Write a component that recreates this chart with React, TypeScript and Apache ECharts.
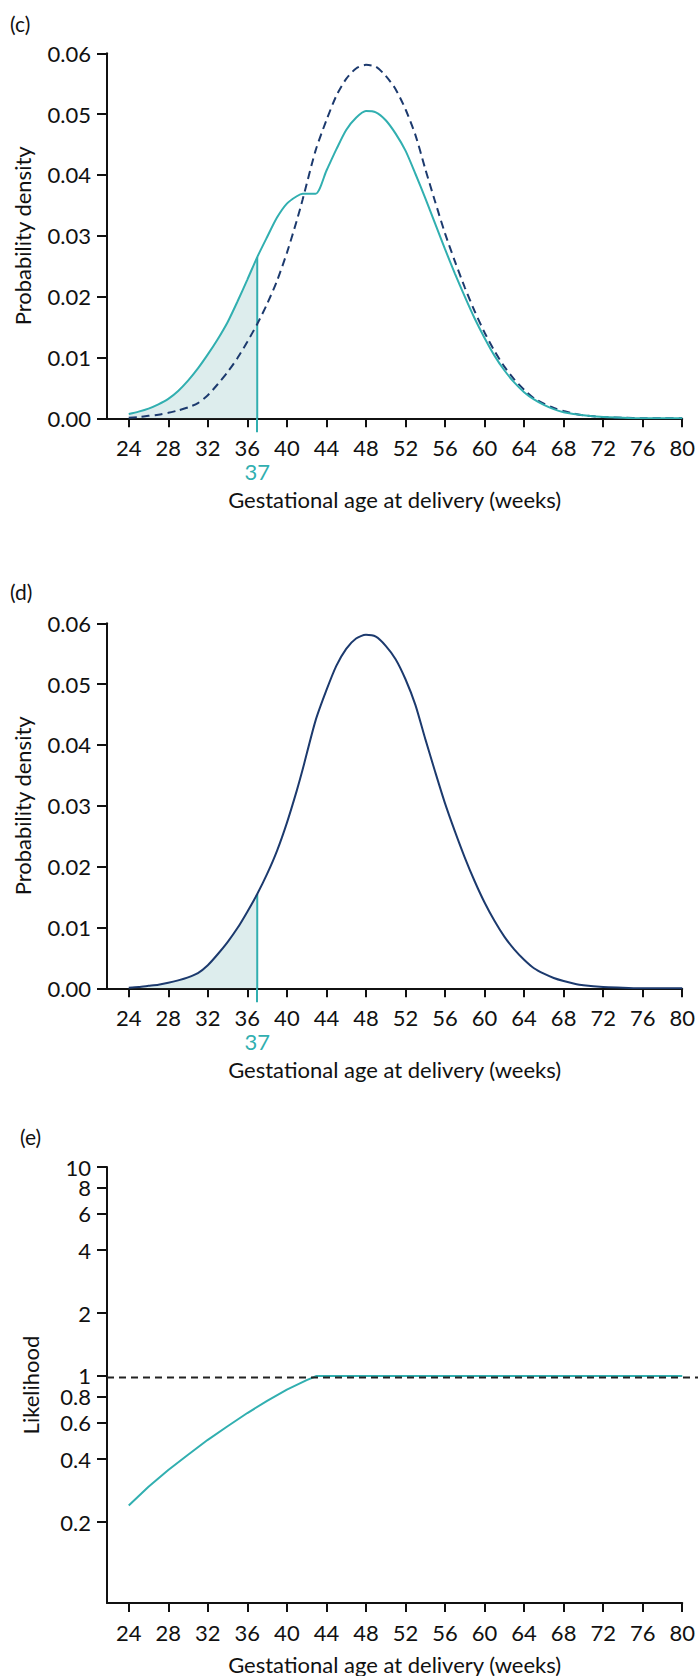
import React, { useEffect, useRef } from "react";
import * as echarts from "echarts";

// ---- data ----
const weeks = [24, 25, 26, 27, 28, 29, 30, 31, 32, 33, 34, 35, 36, 37, 38, 39, 40, 41, 41.6, 42.9, 44, 45, 46, 47, 48, 49, 50, 51, 52, 53, 54, 55, 56, 57, 58, 59, 60, 61, 62, 63, 64, 65, 66, 67, 68, 69, 70, 72, 74, 76, 78, 80];

// teal (solid) density in panel (c)
const tealDensity = [0.0007, 0.0011, 0.0016, 0.0023, 0.0032, 0.0045, 0.0062, 0.0082, 0.0105, 0.013, 0.0158, 0.0192, 0.0228, 0.0265, 0.0298, 0.033, 0.0353, 0.0365, 0.0369, 0.0369, 0.0407, 0.0442, 0.0474, 0.0494, 0.0505, 0.0503, 0.049, 0.0468, 0.044, 0.0402, 0.0362, 0.032, 0.0278, 0.0238, 0.02, 0.0164, 0.0132, 0.0103, 0.0079, 0.0059, 0.0043, 0.0031, 0.0022, 0.0015, 0.001, 0.0007, 0.0005, 0.0002, 0.0001, 0, 0, 0];

// navy density: dashed in (c), solid in (d)
const navyDensity = [0.0001, 0.0002, 0.0004, 0.0006, 0.0009, 0.0013, 0.0018, 0.0025, 0.0038, 0.0056, 0.0076, 0.0099, 0.0126, 0.0155, 0.0188, 0.0226, 0.0272, 0.0325, 0.036, 0.044, 0.049, 0.053, 0.0558, 0.0575, 0.0581, 0.0578, 0.0563, 0.0541, 0.0508, 0.0466, 0.041, 0.0356, 0.0304, 0.0258, 0.0215, 0.0176, 0.0141, 0.0111, 0.0085, 0.0064, 0.0047, 0.0033, 0.0024, 0.0017, 0.0012, 0.0008, 0.0005, 0.0002, 0.0001, 0, 0, 0];

const weekTicks = [24, 28, 32, 36, 40, 44, 48, 52, 56, 60, 64, 68, 72, 76, 80];
const cutoffWeek = 37;

const likelihoodWeeks = [24, 26, 28, 30, 32, 34, 36, 38, 40, 42, 43, 80];
const likelihoodValues = [0.24, 0.295, 0.355, 0.42, 0.495, 0.575, 0.665, 0.76, 0.86, 0.955, 1.0, 1.0];
const likelihoodTicks = [0.2, 0.4, 0.6, 0.8, 1, 2, 4, 6, 8];
const likelihoodTopTick = [10];
const referenceLikelihood = 1;

// ---- styles ----
const TEAL = "#31AFB0";
const NAVY = "#1C3A6E";
const FILL = "#DDEDED";
const INK = "#111111";
const FONT = "Lato";
const SMOOTH = 0.25;

const pairs = (xs: number[], ys: number[]) => xs.map((x, i) => [x, ys[i]]);
const upTo = (xs: number[], ys: number[], lim: number) =>
  xs.map((x, i) => [x, ys[i]]).filter((p) => p[0] <= lim);

const densityXAxis = (gridIndex: number) => ({
  gridIndex,
  type: "value",
  position: "bottom",
  min: 21.8,
  max: 80,
  axisLine: { show: true, lineStyle: { color: INK, width: 2 } },
  axisTick: { show: true, customValues: weekTicks, length: 9, lineStyle: { color: INK, width: 2 } },
  axisLabel: { customValues: weekTicks, margin: 18, fontSize: 22, fontFamily: FONT, color: INK, showMinLabel: true, showMaxLabel: true },
  splitLine: { show: false },
  name: "Gestational age at delivery (weeks)",
  nameLocation: "middle",
  nameGap: 70,
  nameTextStyle: { fontSize: 22, fontFamily: FONT, color: INK },
});

const cutoffXAxis = (gridIndex: number) => ({
  gridIndex,
  type: "value",
  position: "bottom",
  min: 21.8,
  max: 80,
  axisLine: { show: false },
  axisTick: { show: true, customValues: [cutoffWeek], length: 14, lineStyle: { color: TEAL, width: 2 } },
  axisLabel: { customValues: [cutoffWeek], margin: 42, fontSize: 22, fontFamily: FONT, color: TEAL },
  splitLine: { show: false },
});

const densityYAxis = (gridIndex: number) => ({
  gridIndex,
  type: "value",
  min: 0,
  max: 0.06,
  interval: 0.01,
  axisLine: { show: true, lineStyle: { color: INK, width: 2 } },
  axisTick: { show: true, length: 10, lineStyle: { color: INK, width: 2 } },
  axisLabel: { margin: 16, fontSize: 22, fontFamily: FONT, color: INK, showMinLabel: true, showMaxLabel: true, formatter: (v: number) => v.toFixed(2) },
  splitLine: { show: false },
  name: "Probability density",
  nameLocation: "middle",
  nameGap: 74,
  nameTextStyle: { fontSize: 22, fontFamily: FONT, color: INK },
});

const logLabel = (values: number[]) => ({
  customValues: values,
  showMinLabel: true,
  showMaxLabel: true,
  margin: 16,
  fontSize: 22,
  lineHeight: 12,
  fontFamily: FONT,
  color: INK,
  formatter: (v: number) => String(v),
});

const titleStyle = { fontSize: 21, fontWeight: "normal", fontFamily: FONT, color: INK };

export default function App() {
  const ref = useRef<HTMLDivElement>(null);

  useEffect(() => {
    if (!ref.current) return;
    const chart = echarts.init(ref.current, undefined, { renderer: "svg" });
    const tealAtCut = tealDensity[weeks.indexOf(cutoffWeek)];
    const navyAtCut = navyDensity[weeks.indexOf(cutoffWeek)];

    const curve = (xi: number, yi: number, data: number[][], color: string, dash: any, z: number) => ({
      type: "line",
      xAxisIndex: xi,
      yAxisIndex: yi,
      data,
      symbol: "none",
      smooth: SMOOTH,
      lineStyle: { color, width: 2, type: dash },
      z,
    });
    const area = (xi: number, yi: number, data: number[][]) => ({
      type: "line",
      xAxisIndex: xi,
      yAxisIndex: yi,
      data,
      symbol: "none",
      smooth: SMOOTH,
      lineStyle: { width: 0 },
      areaStyle: { color: FILL, opacity: 1 },
      z: 1,
    });
    const cutLine = (xi: number, yi: number, top: number) => ({
      type: "line",
      xAxisIndex: xi,
      yAxisIndex: yi,
      data: [
        [cutoffWeek, 0],
        [cutoffWeek, top],
      ],
      symbol: "none",
      lineStyle: { color: TEAL, width: 2 },
      z: 2,
    });

    chart.setOption({
      animation: false,
      backgroundColor: "#ffffff",
      title: [
        { text: "(c)", left: 10, top: 13, textStyle: titleStyle, padding: 0 },
        { text: "(d)", left: 10, top: 581, textStyle: titleStyle, padding: 0 },
        { text: "(e)", left: 20, top: 1126, textStyle: titleStyle, padding: 0 },
      ],
      grid: [
        { left: 107, top: 53.3, width: 576, height: 365 },
        { left: 107, top: 623.3, width: 576, height: 365 },
        { left: 107, top: 1167, width: 577, height: 439 },
        { left: 107, top: 1167, width: 591, height: 439 },
      ],
      xAxis: [
        densityXAxis(0),
        cutoffXAxis(0),
        densityXAxis(1),
        cutoffXAxis(1),
        {
          gridIndex: 2,
          type: "value",
          position: "bottom",
          min: 21.8,
          max: 80,
          axisLine: { show: true, lineStyle: { color: INK, width: 2 } },
          axisTick: { show: true, customValues: weekTicks, length: 9, lineStyle: { color: INK, width: 2 } },
          axisLabel: { customValues: weekTicks, margin: 18, fontSize: 22, fontFamily: FONT, color: INK, showMinLabel: true, showMaxLabel: true },
          splitLine: { show: false },
          name: "Gestational age at delivery (weeks)",
          nameLocation: "middle",
          nameGap: 50,
          nameTextStyle: { fontSize: 22, fontFamily: FONT, color: INK },
        },
        { gridIndex: 3, type: "value", min: 0, max: 1, show: false },
      ],
      yAxis: [
        densityYAxis(0),
        densityYAxis(1),
        {
          gridIndex: 2,
          type: "log",
          logBase: 10,
          position: "left",
          min: 0.082,
          max: 10.001,
          axisLine: { show: true, lineStyle: { color: INK, width: 2 } },
          axisTick: { show: true, customValues: likelihoodTicks, length: 10, lineStyle: { color: INK, width: 2 } },
          axisLabel: logLabel(likelihoodTicks),
          splitLine: { show: false },
          name: "Likelihood",
          nameLocation: "middle",
          nameGap: 66,
          nameTextStyle: { fontSize: 22, fontFamily: FONT, color: INK },
        },
        { gridIndex: 3, type: "log", logBase: 10, min: 0.082, max: 10.001, show: false },
        {
          gridIndex: 2,
          type: "log",
          logBase: 10,
          position: "left",
          offset: 0,
          min: 0.082,
          max: 10.001,
          axisLine: { show: false },
          axisTick: { show: true, customValues: likelihoodTopTick, length: 10, lineStyle: { color: INK, width: 2 } },
          axisLabel: logLabel(likelihoodTopTick),
          splitLine: { show: false },
        },
      ],
      series: [
        // panel (c)
        area(0, 0, upTo(weeks, tealDensity, cutoffWeek)),
        cutLine(0, 0, tealAtCut),
        curve(0, 0, pairs(weeks, navyDensity), NAVY, [8, 5], 3),
        curve(0, 0, pairs(weeks, tealDensity), TEAL, "solid", 4),
        // panel (d)
        area(2, 1, upTo(weeks, navyDensity, cutoffWeek)),
        cutLine(2, 1, navyAtCut),
        curve(2, 1, pairs(weeks, navyDensity), NAVY, "solid", 3),
        // panel (e)
        {
          type: "line",
          xAxisIndex: 4,
          yAxisIndex: 2,
          data: pairs(likelihoodWeeks, likelihoodValues),
          symbol: "none",
          lineStyle: { color: TEAL, width: 2 },
          z: 2,
        },
        {
          type: "line",
          xAxisIndex: 5,
          yAxisIndex: 3,
          data: [
            [0, referenceLikelihood],
            [1, referenceLikelihood],
          ],
          symbol: "none",
          lineStyle: { color: "#222222", width: 2, type: [7, 5] },
          z: 3,
        },
      ],
    });

    return () => chart.dispose();
  }, []);

  return (
    <div
      ref={ref}
      style={{ position: "absolute", left: 0, top: 0, width: 698, height: 1676, background: "#fff" }}
    />
  );
}
